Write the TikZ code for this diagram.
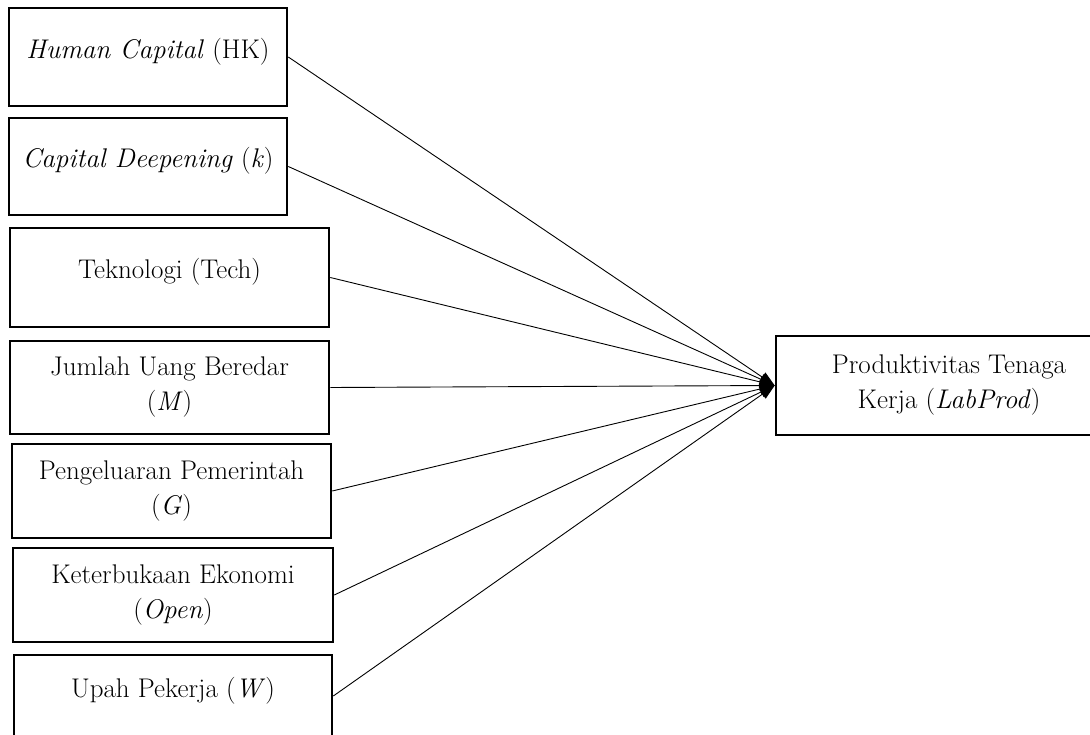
\documentclass[tikz,border=0pt]{standalone}
\usepackage{fontspec}
\usepackage{tikz}
\usetikzlibrary{positioning,arrows.meta,calc}

\tikzset{
    varbox/.style={draw, line width=2.6pt, align=center, inner sep=2pt,
        font=\fontsize{27}{35}\selectfont},
    toptext/.style={text depth=18pt},
    conn/.style={-{Triangle[length=15pt,width=11pt]}, line width=0.9pt}
}

\begin{document}
\begin{tikzpicture}[x=1pt, y=-1pt]

    % =========================================================================
    % CADRE (1 unité = 1 px de la référence)
    % =========================================================================
    \useasboundingbox (0,0) rectangle (1090,735);

    % =========================================================================
    % VARIABLES INDEPENDANTES
    % =========================================================================
    \node[varbox, toptext, minimum width=278, minimum height=98] (hk)   at (148, 57)
        {\textit{Human Capital} (HK)};
    \node[varbox, toptext, minimum width=278, minimum height=97] (cd)   at (148, 166.5)
        {\textit{Capital Deepening} (\textit{k})};
    \node[varbox, toptext, minimum width=319, minimum height=99] (tech) at (169.5, 277.5)
        {Teknologi (Tech)};
    \node[varbox, minimum width=319, minimum height=93]          (m)    at (169.5, 387.5)
        {Jumlah Uang Beredar\\(\textit{M})};
    \node[varbox, minimum width=319, minimum height=94]          (g)    at (171.5, 491)
        {Pengeluaran Pemerintah\\(\textit{G})};
    \node[varbox, minimum width=320, minimum height=94]          (open) at (173, 595)
        {Keterbukaan Ekonomi\\(\textit{Open})};
    \node[varbox, toptext, minimum width=318, minimum height=82] (w)    at (173, 696)
        {Upah Pekerja (\textit{W})};

    % =========================================================================
    % VARIABLE DEPENDANTE
    % =========================================================================
    \node[varbox, minimum width=346, minimum height=99] (labprod) at (949, 385.5)
        {Produktivitas Tenaga\\Kerja (\textit{LabProd})};

    % =========================================================================
    % LIAISONS
    % =========================================================================
    \foreach \v in {hk, cd, tech, m, g, open, w} {
        \draw[conn] (\v.east) -- (labprod.west);
    }

\end{tikzpicture}
\end{document}
